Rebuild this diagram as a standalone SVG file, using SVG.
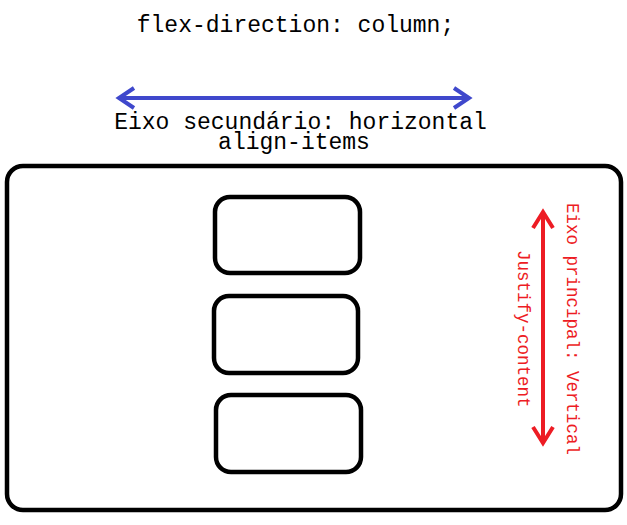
<svg xmlns="http://www.w3.org/2000/svg" width="627" height="525" viewBox="0 0 627 525">
<style>
.box{fill:none;stroke:#000;stroke-width:4.5}
.t{font-family:"Liberation Mono","Courier New",monospace;fill:#000}
.r{font-family:"Liberation Mono","Courier New",monospace;fill:#ED1C24;font-size:17.5px}
</style>
<rect width="627" height="525" fill="#fff"/>
<text class="t" x="295.5" y="32" font-size="23" text-anchor="middle">flex-direction: column;</text>
<text class="t" x="300.5" y="129" font-size="23" text-anchor="middle">Eixo secundário: horizontal</text>
<text class="t" x="294" y="149" font-size="23" text-anchor="middle">align-items</text>
<g id="container"><rect class="box" x="7" y="166" width="614" height="344" rx="16"/></g>
<g id="item1"><rect class="box" x="215" y="197" width="145" height="76" rx="15"/></g>
<g id="item2"><rect class="box" x="214" y="296" width="144" height="77" rx="15"/></g>
<g id="item3"><rect class="box" x="216" y="395" width="145" height="77" rx="15"/></g>
<g id="connectors" fill="none" stroke-width="4" stroke-linecap="butt">
<g stroke="#3F48CC">
<line x1="120" y1="98" x2="468" y2="98"/>
<polyline points="134,88 119,98 134,108"/>
<polyline points="454,88 469,98 454,108"/>
</g>
<g stroke="#ED1C24">
<line x1="543" y1="213" x2="543" y2="442"/>
<polyline points="533,228 543,212 553,228"/>
<polyline points="533,427 543,443 553,427"/>
</g>
</g>
<text class="r" transform="translate(567,203) rotate(90)">Eixo principal: Vertical</text>
<text class="r" transform="translate(518,250) rotate(90)">Justify-content</text>
</svg>
